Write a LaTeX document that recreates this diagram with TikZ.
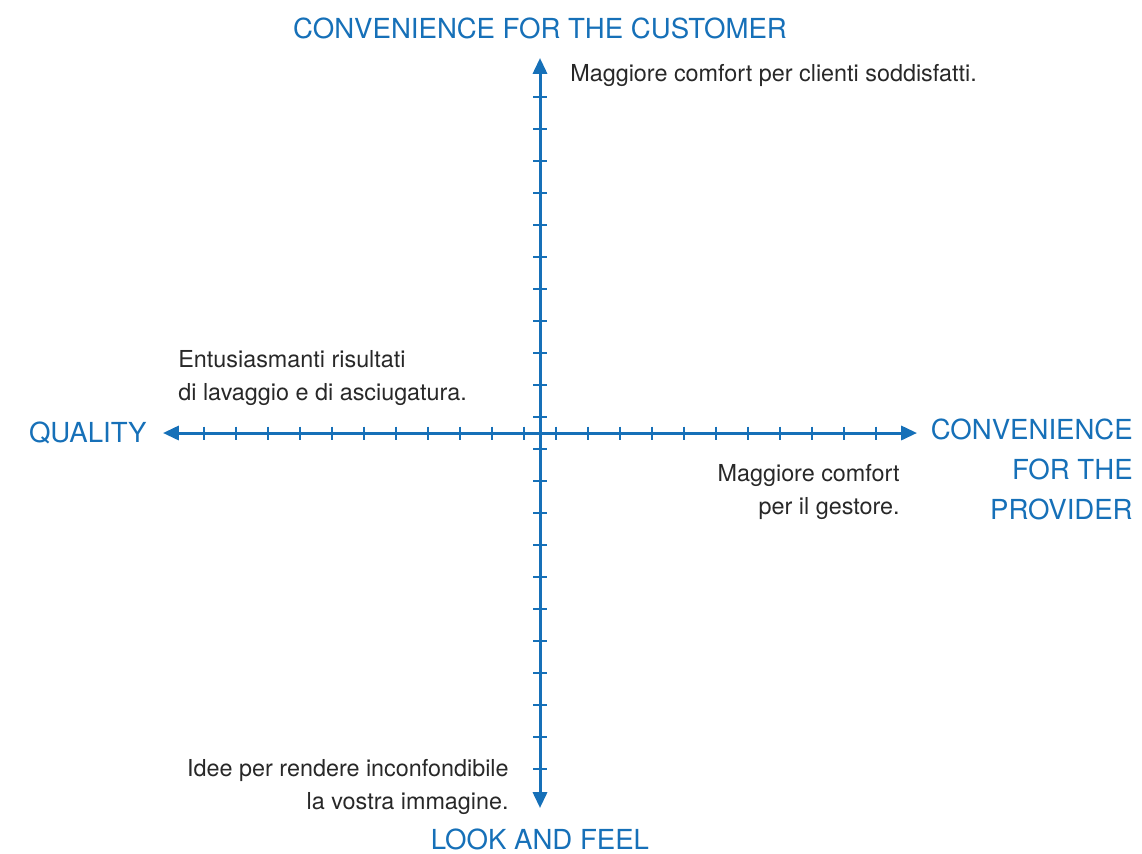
\documentclass[tikz,border=0pt]{standalone}
\usepackage{fontspec}
\setmainfont{TeX Gyre Heros}
\usepackage{xcolor}
\usetikzlibrary{arrows.meta}
\definecolor{axisblue}{RGB}{22,112,184}
\definecolor{notegray}{RGB}{40,40,40}

\begin{document}
\begin{tikzpicture}[x=0.02cm,y=-0.02cm,
	axis/.style={axisblue,line width=1.7pt,-{Triangle[length=9pt,width=8pt]}},
	tick/.style={axisblue,line width=1.1pt},
	head/.style={axisblue,inner sep=0pt,font=\fontsize{15.7}{22.5}\selectfont},
	note/.style={notegray,inner sep=0pt,font=\fontsize{13.3}{18.4}\selectfont}]
	\useasboundingbox (0,0) rectangle (1142,853);
	% axes
	\coordinate (O) at (540,433);
	\coordinate (top) at (540,58);
	\coordinate (bot) at (540,808);
	\coordinate (lft) at (163,433);
	\coordinate (rgt) at (917,433);
	\draw[axis] (O) -- (top);
	\draw[axis] (O) -- (bot);
	\draw[axis] (O) -- (lft);
	\draw[axis] (O) -- (rgt);
	\foreach \k in {0,...,10}{
		\draw[tick] ({524-32*\k},426.5) -- ++(0,13);
		\draw[tick] ({556+32*\k},426.5) -- ++(0,13);
		\draw[tick] (533,{417-32*\k}) -- ++(14,0);
		\draw[tick] (533,{449+32*\k}) -- ++(14,0);
	}
	% axis names
	\node[head,anchor=base] (customer) at (540,38) {CONVENIENCE FOR THE CUSTOMER};
	\node[head,anchor=base east] (quality) at (147,442) {QUALITY};
	\node[head,anchor=base east,align=right] (provider) at (1133,519) {CONVENIENCE\\FOR THE\\PROVIDER};
	\node[head,anchor=base] (look) at (540,849) {LOOK AND FEEL};
	% notes (base = last line)
	\node[note,anchor=base west] (clienti) at (570,81) {Maggiore comfort per clienti soddisfatti.};
	\node[note,anchor=base west,align=left] (lavaggio) at (178,400) {Entusiasmanti risultati\\di lavaggio e di asciugatura.};
	\node[note,anchor=base east,align=right] (gestore) at (900,514) {Maggiore comfort\\per il gestore.};
	\node[note,anchor=base east,align=right] (immagine) at (509,809) {Idee per rendere inconfondibile\\la vostra immagine.};
\end{tikzpicture}
\end{document}
